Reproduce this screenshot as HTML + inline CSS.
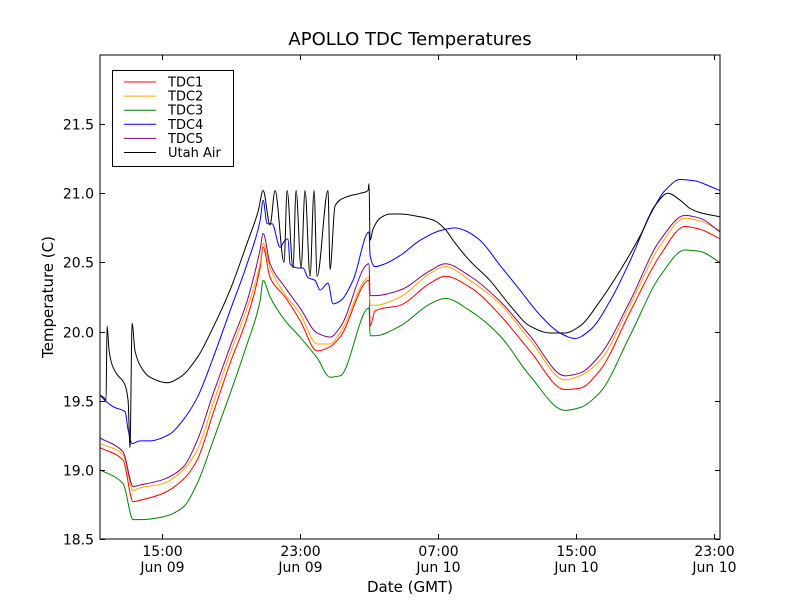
<!DOCTYPE html>
<html><head><meta charset="utf-8"><style>
body{margin:0;background:#fff;}
svg text{font-family:"DejaVu Sans","Liberation Sans",sans-serif;fill:#000;}
</style></head><body>
<svg id="chart" width="800" height="600" xmlns="http://www.w3.org/2000/svg">
<rect width="800" height="600" fill="#fff"/>
<text x="410" y="45" font-size="18" text-anchor="middle">APOLLO TDC Temperatures</text>
<text x="410" y="592" font-size="15" text-anchor="middle">Date (GMT)</text>
<text transform="translate(53,297) rotate(-90)" font-size="15" text-anchor="middle">Temperature (C)</text>
<g id="series"></g>
<g id="axes"></g>
<rect x="100" y="55" width="620" height="484" fill="none" stroke="#000" stroke-width="1"/>
<g>
<rect x="112.5" y="70.5" width="121" height="96" fill="#fff" stroke="#000" stroke-width="1"/>
<g id="legend"></g>
</g>
</svg>
<script>
const hoursT=[11.41,12.74,13.32,13.72,15.06,16.22,17.03,17.96,18.94,19.93,20.68,20.86,21.26,22.13,23.00,23.99,24.74,25.32,27.00,27.06,27.35,28.80,30.54,31.41,32.86,34.59,36.33,38.36,39.23,40.39,42.13,43.87,45.32,46.19,47.35];
const tdc1=[19.16,19.07,18.77,18.78,18.83,18.93,19.07,19.41,19.77,20.10,20.46,20.61,20.39,20.25,20.08,19.86,19.89,19.96,20.37,20.04,20.15,20.19,20.35,20.40,20.32,20.12,19.86,19.58,19.59,19.72,20.14,20.55,20.76,20.74,20.67];
const tdc2=[19.19,19.11,18.85,18.87,18.90,19.00,19.14,19.48,19.84,20.17,20.49,20.64,20.46,20.27,20.13,19.91,19.91,19.99,20.39,20.19,20.19,20.25,20.42,20.47,20.37,20.20,19.94,19.65,19.68,19.79,20.19,20.62,20.82,20.80,20.73];
const tdc3=[19.00,18.90,18.64,18.64,18.66,18.73,18.90,19.21,19.55,19.91,20.22,20.37,20.25,20.08,19.96,19.81,19.67,19.68,20.17,19.97,19.97,20.04,20.20,20.24,20.15,19.97,19.68,19.43,19.45,19.56,19.97,20.40,20.59,20.58,20.50];
const tdc5=[19.23,19.13,18.88,18.89,18.93,19.02,19.21,19.55,19.89,20.22,20.59,20.71,20.49,20.32,20.17,19.99,19.96,20.03,20.49,20.26,20.26,20.30,20.44,20.49,20.40,20.22,19.97,19.68,19.70,19.83,20.22,20.66,20.84,20.82,20.72];
const hoursB=[11.41,11.70,12.28,12.74,12.86,13.03,13.26,13.72,14.30,15.46,16.22,17.03,17.96,18.94,19.93,20.68,20.86,21.09,21.38,21.84,22.13,22.30,22.42,22.88,23.17,23.46,23.87,24.16,24.62,24.91,25.32,26.07,27.00,27.06,27.35,27.93,28.80,29.96,31.12,31.99,32.57,33.43,34.59,35.75,36.91,38.07,38.94,39.81,40.97,42.13,43.29,44.16,45.04,45.90,46.77,47.35];
const tdc4=[19.54,19.50,19.45,19.43,19.42,19.29,19.19,19.21,19.21,19.26,19.36,19.52,19.81,20.15,20.49,20.80,20.95,20.78,20.78,20.61,20.66,20.67,20.49,20.46,20.46,20.39,20.37,20.30,20.35,20.20,20.22,20.37,20.72,20.55,20.47,20.49,20.55,20.66,20.73,20.75,20.73,20.66,20.48,20.30,20.12,19.99,19.95,20.01,20.22,20.51,20.84,21.02,21.10,21.09,21.05,21.02];
const hoursA=[11.41,11.64,11.75,11.81,11.93,12.10,12.45,12.68,12.86,13.03,13.14,13.26,13.43,13.90,14.30,15.29,16.04,17.03,17.96,18.94,19.93,20.57,20.86,21.26,21.55,22.07,22.25,22.59,22.77,23.06,23.29,23.58,23.81,23.99,24.62,24.74,25.03,25.61,26.48,26.94,27.00,27.06,27.23,27.64,28.22,28.80,29.96,30.83,31.41,31.99,32.86,34.01,35.17,36.33,37.49,38.36,39.23,40.39,41.55,42.71,43.58,44.33,45.04,45.62,46.19,47.35];
const utahAir=[19.54,19.52,19.50,20.04,19.86,19.76,19.68,19.65,19.61,19.50,19.16,20.06,19.86,19.72,19.67,19.63,19.67,19.81,20.03,20.30,20.64,20.87,21.02,20.77,21.02,20.50,21.02,20.46,21.02,20.46,21.02,20.40,21.02,20.40,21.02,20.45,20.91,20.97,21.00,21.02,21.07,20.66,20.74,20.82,20.85,20.85,20.83,20.80,20.74,20.64,20.51,20.37,20.19,20.04,19.99,19.99,20.04,20.22,20.44,20.69,20.91,21.00,20.95,20.89,20.86,20.83];
const yTicks=[18.5,19.0,19.5,20.0,20.5,21.0,21.5];
const yTickLabels=["18.5","19.0","19.5","20.0","20.5","21.0","21.5"];
const xTicks=[15,23,31,39,47];
const xTickTimes=["15:00","23:00","07:00","15:00","23:00"];
const xTickDates=["Jun 09","Jun 09","Jun 10","Jun 10","Jun 10"];
const seriesNames=["TDC1","TDC2","TDC3","TDC4","TDC5","Utah Air"];
const seriesColors=["#ff0000","#ffa500","#008000","#0000ff","#800080","#000000"];

const X=h=>100+(h-11.4)*(620/(47.35-11.4));
const Y=v=>539-(v-18.5)*(484/3.5);
const NS="http://www.w3.org/2000/svg";

function monoPath(xs,ys){
  const n=xs.length;const d=[],m=[];
  for(let i=0;i<n-1;i++){d.push((ys[i+1]-ys[i])/((xs[i+1]-xs[i])||1e-6));}
  m[0]=d[0];m[n-1]=d[n-2];
  for(let i=1;i<n-1;i++){
    if(d[i-1]*d[i]<=0)m[i]=0;
    else{const h0=xs[i]-xs[i-1],h1=xs[i+1]-xs[i];const w1=2*h1+h0,w2=h1+2*h0;m[i]=(w1+w2)/(w1/d[i-1]+w2/d[i]);}
  }
  let p=`M${xs[0].toFixed(2)},${ys[0].toFixed(2)}`;
  for(let i=0;i<n-1;i++){
    const h=(xs[i+1]-xs[i])/3;
    p+=`C${(xs[i]+h).toFixed(2)},${(ys[i]+m[i]*h).toFixed(2)} ${(xs[i+1]-h).toFixed(2)},${(ys[i+1]-m[i+1]*h).toFixed(2)} ${xs[i+1].toFixed(2)},${ys[i+1].toFixed(2)}`;
  }
  return p;
}

const sg=document.getElementById('series');
const seriesData=[[hoursT,tdc1],[hoursT,tdc2],[hoursT,tdc3],[hoursB,tdc4],[hoursT,tdc5],[hoursA,utahAir]];
seriesData.forEach((s,i)=>{
  const p=document.createElementNS(NS,'path');
  p.setAttribute('d',monoPath(s[0].map(X),s[1].map(Y)));
  p.setAttribute('fill','none');p.setAttribute('stroke',seriesColors[i]);p.setAttribute('stroke-width','1');
  
  
  sg.appendChild(p);
});
const ax=document.getElementById('axes');
yTicks.forEach((v,i)=>{
  const y=Math.round(Y(v))+0.5;
  const t=document.createElementNS(NS,'path');
  t.setAttribute('d',`M100 ${y}h5M720 ${y}h-5`);t.setAttribute('stroke','#000');
  
  
  ax.appendChild(t);
  const l=document.createElementNS(NS,'text');
  l.setAttribute('x',94);l.setAttribute('y',y+5);l.setAttribute('font-size','14');l.setAttribute('text-anchor','end');
  l.textContent=yTickLabels[i];
  
  
  ax.appendChild(l);
});
xTicks.forEach((h,i)=>{
  const x=Math.round(X(h))+0.5;
  const t=document.createElementNS(NS,'path');
  t.setAttribute('d',`M${x} 539v-5M${x} 55v5`);t.setAttribute('stroke','#000');
  
  
  ax.appendChild(t);
  const l=document.createElementNS(NS,'text');
  l.setAttribute('x',x);l.setAttribute('y',556);l.setAttribute('font-size','14');l.setAttribute('text-anchor','middle');
  l.textContent=xTickTimes[i];
  
  
  ax.appendChild(l);
  const d=document.createElementNS(NS,'text');
  d.setAttribute('x',x);d.setAttribute('y',572);d.setAttribute('font-size','14');d.setAttribute('text-anchor','middle');
  d.textContent=xTickDates[i];
  
  
  ax.appendChild(d);
});
const lg=document.getElementById('legend');
seriesNames.forEach((n,i)=>{
  const y=82+i*14.1;
  const ln=document.createElementNS(NS,'line');
  ln.setAttribute('x1',124);ln.setAttribute('x2',156);ln.setAttribute('y1',y);ln.setAttribute('y2',y);
  ln.setAttribute('stroke',seriesColors[i]);ln.setAttribute('stroke-width','1');
  
  
  lg.appendChild(ln);
  const t=document.createElementNS(NS,'text');
  t.setAttribute('x',168);t.setAttribute('y',y+4.5);t.setAttribute('font-size','13');
  t.textContent=n;
  
  
  lg.appendChild(t);
});
</script>
</body></html>
